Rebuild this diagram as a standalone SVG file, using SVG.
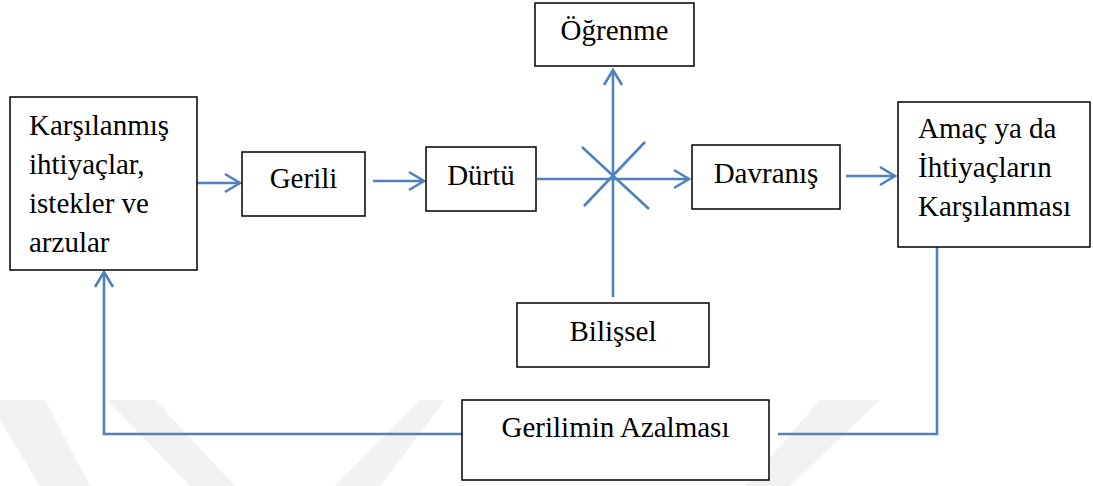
<svg xmlns="http://www.w3.org/2000/svg" width="1093" height="486" viewBox="0 0 1093 486">
<style>
.box{fill:#fff;stroke:#000;stroke-width:1.5}
.t{font-family:"Liberation Serif","Times New Roman",serif;font-size:29px;fill:#000}
.c{text-anchor:middle}
.ln{fill:none;stroke:#4f81bd;stroke-width:2.6}
.wm{fill:#f2f2f2}
</style>
<defs>
<marker id="ah" markerUnits="userSpaceOnUse" markerWidth="24" markerHeight="24" viewBox="-20 -12 24 24" refX="0" refY="0" orient="auto">
<path d="M-15,-9 L0,0 L-15,9" fill="none" stroke="#4f81bd" stroke-width="2.6"/>
</marker>
</defs>
<g id="watermark">
<polygon class="wm" points="0,400 45,400 90,486 40,486 0,420"/>
<polygon class="wm" points="107,400 155,400 235,486 190,486"/>
<polygon class="wm" points="420,400 445,400 380,486 335,486"/>
<polygon class="wm" points="820,400 880,400 790,486 745,486"/>
</g>
<g id="connectors">
<line class="ln" x1="197" y1="183" x2="240" y2="183" marker-end="url(#ah)"/>
<line class="ln" x1="373" y1="181" x2="424" y2="181" marker-end="url(#ah)"/>
<line class="ln" x1="537" y1="179" x2="689" y2="179" marker-end="url(#ah)"/>
<line class="ln" x1="613" y1="297" x2="613" y2="70" marker-end="url(#ah)"/>
<line class="ln" x1="582" y1="147" x2="649" y2="209"/>
<line class="ln" x1="645" y1="142" x2="584" y2="206"/>
<line class="ln" x1="846" y1="176" x2="895" y2="176" marker-end="url(#ah)"/>
<polyline class="ln" points="937,247 937,434 778,434"/>
<polyline class="ln" points="462,434 104,434 104,272" marker-end="url(#ah)"/>
</g>
<g id="node-ogrenme">
<rect class="box" x="535" y="3" width="159" height="63"/>
<text class="t c" x="614.5" y="40">Öğrenme</text>
</g>
<g id="node-karsilanmis">
<rect class="box" x="10" y="97" width="187" height="173"/>
<text class="t" x="29" y="135">Karşılanmış</text>
<text class="t" x="29" y="174">ihtiyaçlar,</text>
<text class="t" x="29" y="213">istekler ve</text>
<text class="t" x="29" y="252">arzular</text>
</g>
<g id="node-gerili">
<rect class="box" x="242" y="152" width="123" height="64"/>
<text class="t c" x="303.5" y="188">Gerili</text>
</g>
<g id="node-durtu">
<rect class="box" x="426" y="147" width="110" height="64"/>
<text class="t c" x="481" y="185">Dürtü</text>
</g>
<g id="node-davranis">
<rect class="box" x="692" y="145" width="148" height="64"/>
<text class="t c" x="766" y="183">Davranış</text>
</g>
<g id="node-amac">
<rect class="box" x="898" y="102" width="192" height="145"/>
<text class="t" x="918" y="138">Amaç ya da</text>
<text class="t" x="918" y="177">İhtiyaçların</text>
<text class="t" x="918" y="216">Karşılanması</text>
</g>
<g id="node-bilissel">
<rect class="box" x="517" y="303" width="192" height="64"/>
<text class="t c" x="613" y="341">Bilişsel</text>
</g>
<g id="node-gerilimin">
<rect class="box" x="462" y="400" width="307" height="80"/>
<text class="t c" x="615.5" y="437">Gerilimin Azalması</text>
</g>
</svg>
